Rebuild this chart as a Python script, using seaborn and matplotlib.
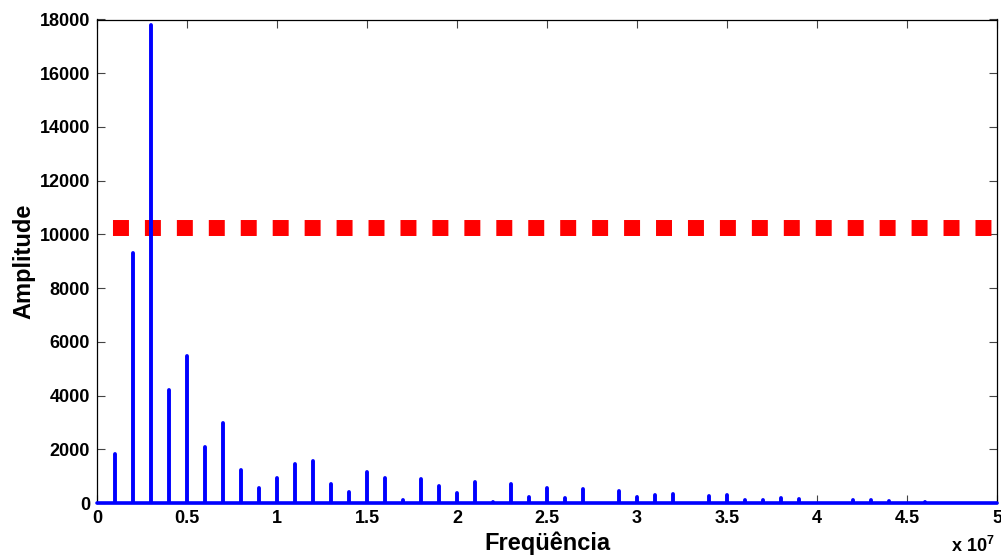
import numpy as np
import pandas as pd
import seaborn as sns
import matplotlib.pyplot as plt
from matplotlib.ticker import FuncFormatter, MultipleLocator

#-------------------------------------------------------------------------------
# data (harmonics of 1 MHz)
harmonic = np.arange(1, 50)
freq_hz = harmonic * 1e6
amplitude = [1820, 9320, 17800, 4210, 5480, 2100, 2970, 1210, 560, 930,
             1460, 1560, 720, 410, 1150, 930, 100, 890, 650, 390,
             790, 40, 690, 230, 550, 190, 520, 0, 460, 220,
             290, 350, 0, 260, 280, 110, 120, 170, 150, 0,
             0, 100, 100, 80, 0, 30, 0, 0, 0]
threshold = 10230
x_max = 5e7
y_max = 18000

#-------------------------------------------------------------------------------
# each stem = two points (f, 0) -> (f, amp), one unit per harmonic
stems = pd.DataFrame({
    'k': np.repeat(harmonic, 2),
    'freq': np.repeat(freq_hz, 2),
    'amp': np.ravel([[0, a] for a in amplitude]),
})
limits = pd.DataFrame({'freq': [0, x_max], 'zero': [0, 0], 'thr': [threshold, threshold]})

#-------------------------------------------------------------------------------
sns.set_style('ticks')
plt.rcParams['font.family'] = ['Liberation Sans', 'DejaVu Sans']
plt.rcParams['font.weight'] = 'bold'
plt.rcParams['axes.labelweight'] = 'bold'
plt.rcParams['text.color'] = 'black'
plt.rcParams['axes.labelcolor'] = 'black'
plt.rcParams['mathtext.fontset'] = 'custom'
plt.rcParams['mathtext.bf'] = 'Liberation Sans:bold'
plt.rcParams['mathtext.rm'] = 'Liberation Sans:bold'

fig = plt.figure(figsize=(10.01, 5.58), dpi=100)
ax = fig.add_axes([97 / 1001, 55 / 558, 900 / 1001, 483.5 / 558])

sns.lineplot(data=limits, x='freq', y='thr', ax=ax, color='#ff0000', lw=11.5,
             linestyle=(1.0, (1, 1)), solid_capstyle='butt', zorder=2)
sns.lineplot(data=stems, x='freq', y='amp', units='k', estimator=None, ax=ax,
             color='#0000ff', lw=2.8, zorder=3)
sns.lineplot(data=limits, x='freq', y='zero', ax=ax, color='#0000ff', lw=2.6,
             zorder=3, clip_on=False)

ax.set_xlim(0, x_max)
ax.set_ylim(0, y_max)
ax.xaxis.set_major_locator(MultipleLocator(5e6))
ax.yaxis.set_major_locator(MultipleLocator(2000))
ax.xaxis.set_major_formatter(FuncFormatter(lambda v, p: f'{v / 1e7:g}'))
ax.yaxis.set_major_formatter(FuncFormatter(lambda v, p: f'{v:.0f}'))
ax.tick_params(direction='in', length=6, width=0.8, color='#444444',
               labelcolor='black', labelsize=13, top=True, right=True, pad=5)
for s in ax.spines.values():
    s.set_linewidth(0.9)
    s.set_color('black')

ax.set_xlabel('Freqüência', fontsize=17, fontweight='bold', labelpad=3)
ax.set_ylabel('Amplitude', fontsize=17, fontweight='bold', labelpad=3)
fig.text(995 / 1001, 2 / 558, r'x 10$^{7}$', ha='right', va='bottom',
         fontsize=13, fontweight='bold')

fig.savefig('out.png', dpi=100)
